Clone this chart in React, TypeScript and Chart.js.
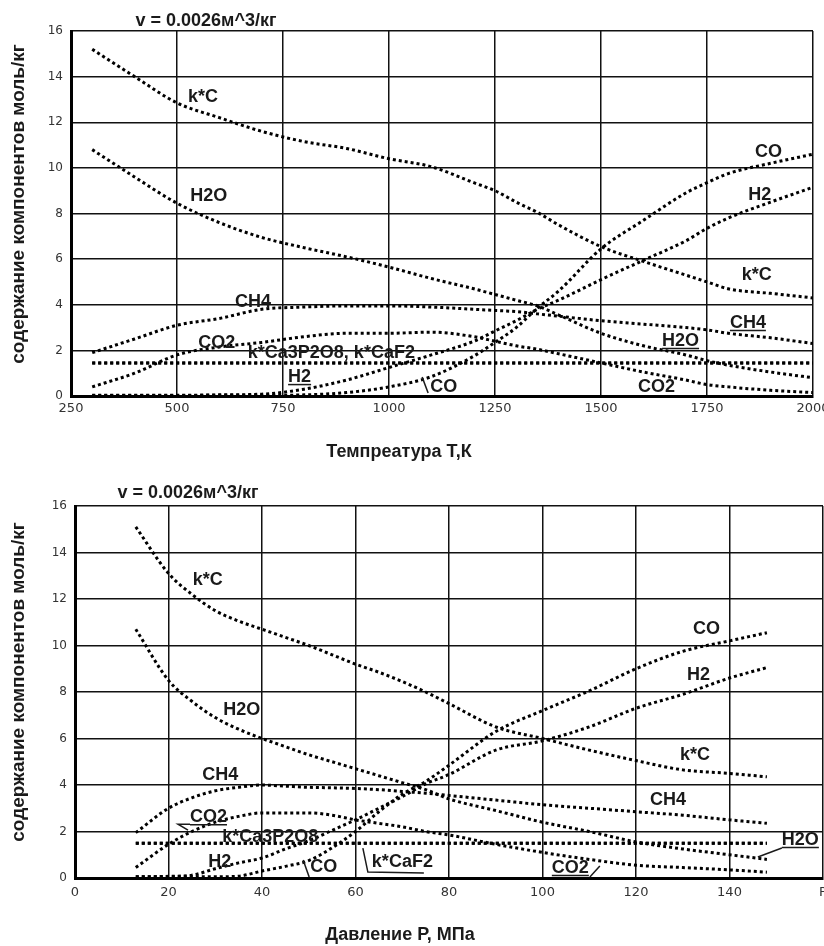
import React, { useEffect, useRef } from "react";
import { Chart, registerables } from "chart.js";

Chart.register(...registerables);

// ---------- Top chart: temperature ----------
const TEMP_T = [300, 400, 500, 600, 700, 800, 900, 1000, 1100, 1200, 1250, 1300, 1350, 1400, 1500, 1600, 1700, 1750, 1800, 1900, 2000];
const TEMP_KC = [15.2, 14.0, 12.85, 12.2, 11.6, 11.15, 10.85, 10.4, 10.05, 9.35, 9.0, 8.5, 8.05, 7.5, 6.55, 5.9, 5.3, 5.0, 4.7, 4.5, 4.3];
const TEMP_H2O = [10.8, 9.6, 8.45, 7.6, 6.95, 6.5, 6.1, 5.65, 5.15, 4.7, 4.45, 4.2, 3.95, 3.55, 2.75, 2.2, 1.8, 1.55, 1.35, 1.05, 0.8];
const TEMP_CH4 = [1.9, 2.5, 3.1, 3.4, 3.8, 3.9, 3.95, 3.95, 3.9, 3.8, 3.75, 3.7, 3.6, 3.5, 3.3, 3.15, 3.0, 2.9, 2.75, 2.55, 2.3];
const TEMP_CO2 = [0.4, 1.0, 1.8, 2.15, 2.35, 2.6, 2.75, 2.75, 2.8, 2.6, 2.4, 2.2, 2.05, 1.85, 1.45, 1.05, 0.7, 0.5, 0.4, 0.25, 0.15];
const TEMP_H2 = [0.03, 0.03, 0.03, 0.05, 0.08, 0.3, 0.7, 1.25, 1.8, 2.4, 2.85, 3.3, 3.8, 4.2, 5.1, 5.95, 6.8, 7.35, 7.8, 8.5, 9.15];
const TEMP_CO = [0.02, 0.02, 0.02, 0.03, 0.03, 0.05, 0.15, 0.4, 0.85, 1.75, 2.35, 3.0, 3.85, 4.6, 6.45, 7.7, 8.9, 9.35, 9.75, 10.2, 10.6];
const TEMP_KCA3P2O8 = [1.45, 1.45, 1.45, 1.45, 1.45, 1.45, 1.45, 1.45, 1.45, 1.45, 1.45, 1.45, 1.45, 1.45, 1.45, 1.45, 1.45, 1.45, 1.45, 1.45, 1.45];
const TEMP_KCAF2 = [1.45, 1.45, 1.45, 1.45, 1.45, 1.45, 1.45, 1.45, 1.45, 1.45, 1.45, 1.45, 1.45, 1.45, 1.45, 1.45, 1.45, 1.45, 1.45, 1.45, 1.45];

// ---------- Bottom chart: pressure ----------
const PRES_P = [13, 20, 25, 30, 35, 40, 45, 50, 55, 60, 65, 70, 75, 80, 90, 100, 110, 120, 130, 140, 148];
const PRES_KC = [15.1, 13.1, 12.2, 11.5, 11.05, 10.7, 10.35, 10.0, 9.6, 9.2, 8.85, 8.45, 8.0, 7.5, 6.5, 6.0, 5.5, 5.05, 4.65, 4.5, 4.35];
const PRES_H2O = [10.7, 8.5, 7.6, 6.9, 6.4, 6.0, 5.65, 5.3, 5.0, 4.7, 4.4, 4.1, 3.8, 3.4, 2.9, 2.4, 2.0, 1.55, 1.25, 1.0, 0.8];
const PRES_CH4 = [1.95, 3.0, 3.45, 3.75, 3.9, 4.0, 3.95, 3.9, 3.88, 3.85, 3.8, 3.72, 3.65, 3.55, 3.35, 3.15, 3.0, 2.85, 2.7, 2.5, 2.35];
const PRES_CO2 = [0.45, 1.45, 2.0, 2.4, 2.65, 2.8, 2.8, 2.8, 2.7, 2.5, 2.35, 2.2, 2.0, 1.85, 1.45, 1.1, 0.8, 0.55, 0.45, 0.35, 0.25];
const PRES_H2 = [0.05, 0.07, 0.12, 0.4, 0.65, 0.86, 1.25, 1.6, 2.05, 2.5, 3.0, 3.5, 4.05, 4.45, 5.5, 5.9, 6.5, 7.3, 7.9, 8.6, 9.05];
const PRES_CO = [0.05, 0.05, 0.05, 0.05, 0.08, 0.3, 0.5, 0.75, 1.3, 2.0, 2.85, 3.6, 4.15, 4.85, 6.3, 7.2, 8.05, 9.0, 9.75, 10.2, 10.55];
const PRES_KCA3P2O8 = [1.5, 1.5, 1.5, 1.5, 1.5, 1.5, 1.5, 1.5, 1.5, 1.5, 1.5, 1.5, 1.5, 1.5, 1.5, 1.5, 1.5, 1.5, 1.5, 1.5, 1.5];
const PRES_KCAF2 = [1.5, 1.5, 1.5, 1.5, 1.5, 1.5, 1.5, 1.5, 1.5, 1.5, 1.5, 1.5, 1.5, 1.5, 1.5, 1.5, 1.5, 1.5, 1.5, 1.5, 1.5];

// Tick settings
const TEMP_X_MIN = 250, TEMP_X_MAX = 2000, TEMP_X_STEP = 250;
const PRES_X_MIN = 0, PRES_X_MAX = 160, PRES_X_STEP = 20;
const Y_MIN = 0, Y_MAX = 16, Y_STEP = 2;

// Texts
const TITLE = "v = 0.0026м^3/кг";
const Y_TITLE = "содержание компонентов моль/кг";
const TEMP_X_TITLE = "Темпреатура Т,К";
const PRES_X_TITLE = "Давление Р, МПа";

// In-chart labels (data coordinates)
const TEMP_LABELS = [
  { text: "k*C", x: 526, y: 12.9 },
  { text: "H2O", x: 531, y: 8.55 },
  { text: "CH4", x: 637, y: 3.9 },
  { text: "CO2", x: 550, y: 2.1 },
  { text: "k*Ca3P2O8, k*CaF2", x: 667, y: 1.67 },
  { text: "H2", x: 762, y: 0.61, underline: true },
  { text: "CO", x: 1097, y: 0.18, leader: [[-8, -15], [-2, 1]] },
  { text: "CO", x: 1863, y: 10.48 },
  { text: "H2", x: 1847, y: 8.6 },
  { text: "k*C", x: 1832, y: 5.09 },
  { text: "CH4", x: 1804, y: 2.98, underline: true },
  { text: "H2O", x: 1644, y: 2.19, underline: true },
  { text: "CO2", x: 1587, y: 0.18 },
];

const PRES_LABELS = [
  { text: "k*C", x: 25.2, y: 12.6 },
  { text: "H2O", x: 31.7, y: 7.0 },
  { text: "CH4", x: 27.2, y: 4.2 },
  { text: "CO2", x: 24.6, y: 2.4, underline: true, leader: [[0, 2], [-12, 2], [-2, 8]] },
  { text: "k*Ca3P2O8", x: 31.5, y: 1.55 },
  { text: "H2", x: 28.5, y: 0.47 },
  { text: "CO", x: 50.3, y: 0.26, leader: [[-7, -12], [-1, 5]] },
  { text: "k*CaF2", x: 63.5, y: 0.47, leader: [[-9, -19], [-4, 5], [52, 6]] },
  { text: "CO", x: 132.2, y: 10.5 },
  { text: "H2", x: 130.9, y: 8.5 },
  { text: "k*C", x: 129.4, y: 5.06 },
  { text: "CH4", x: 123, y: 3.13 },
  { text: "H2O", x: 151.2, y: 1.42, underline: true, leader: [[0, 3], [-24, 12]] },
  { text: "CO2", x: 102, y: 0.21, underline: true, leader: [[38, 4], [48, -7]] },
];

const LABEL_FONT = "bold 18px 'Liberation Sans', Arial, sans-serif";
const AXIS_TITLE_FONT = "bold 19px 'Liberation Sans', Arial, sans-serif";
const TICK_FONT_FAMILY = "'DejaVu Sans', sans-serif";

type Lbl = { text: string; x: number; y: number; underline?: boolean; leader?: number[][] };

const labelPlugin = {
  id: "seriesLabels",
  afterDatasetsDraw(chart: any, _args: any, opts: any) {
    const ctx = chart.ctx;
    const xs = chart.scales.x;
    const ys = chart.scales.y;
    ctx.save();
    ctx.font = LABEL_FONT;
    ctx.fillStyle = "#1a1a1a";
    ctx.strokeStyle = "#1a1a1a";
    ctx.textAlign = "left";
    ctx.textBaseline = "alphabetic";
    (opts.labels || []).forEach((l: Lbl) => {
      const px = xs.getPixelForValue(l.x);
      const py = ys.getPixelForValue(l.y);
      ctx.fillText(l.text, px, py);
      const w = ctx.measureText(l.text).width;
      ctx.lineWidth = 1.5;
      if (l.underline) {
        ctx.beginPath();
        ctx.moveTo(px, py + 2.5);
        ctx.lineTo(px + w, py + 2.5);
        ctx.stroke();
      }
      if (l.leader) {
        ctx.beginPath();
        l.leader.forEach((p, i) => {
          if (i === 0) ctx.moveTo(px + p[0], py + p[1]);
          else ctx.lineTo(px + p[0], py + p[1]);
        });
        ctx.stroke();
      }
    });
    ctx.restore();
  },
};

const titlePlugin = {
  id: "fixedTitles",
  afterDraw(chart: any, _args: any, opts: any) {
    const ctx = chart.ctx;
    ctx.save();
    ctx.fillStyle = "#1a1a1a";
    ctx.textAlign = "center";
    ctx.textBaseline = "alphabetic";
    (opts.items || []).forEach((t: any) => {
      ctx.font = t.font || LABEL_FONT;
      if (t.rotate) {
        ctx.save();
        ctx.translate(t.x, t.y);
        ctx.rotate(-Math.PI / 2);
        ctx.textBaseline = "middle";
        ctx.fillText(t.text, 0, 0);
        ctx.restore();
      } else {
        ctx.fillText(t.text, t.x, t.y);
      }
    });
    ctx.restore();
  },
};

function makeDatasets(xs: number[], series: { label: string; values: number[] }[]) {
  return series.map((s) => ({
    label: s.label,
    data: xs.map((x, i) => ({ x, y: s.values[i] })),
    borderColor: "#000",
    backgroundColor: "#000",
    borderWidth: 3,
    borderDash: [3, 3],
    borderCapStyle: "butt",
    pointRadius: 0,
    fill: false,
    cubicInterpolationMode: "monotone",
  }));
}

function buildConfig(o: {
  xs: number[];
  series: { label: string; values: number[] }[];
  xMin: number; xMax: number; xStep: number;
  yWidth: number; xHeight: number;
  pad: { left: number; right: number; top: number; bottom: number };
  labels: Lbl[];
  titles: any[];
  lastTick?: string;
  tickPad: number;
}) {
  return {
    type: "line",
    data: { datasets: makeDatasets(o.xs, o.series) },
    plugins: [labelPlugin, titlePlugin],
    options: {
      responsive: false,
      animation: false,
      events: [],
      layout: { padding: o.pad },
      plugins: {
        legend: { display: false },
        tooltip: { enabled: false },
        title: { display: false },
        seriesLabels: { labels: o.labels },
        fixedTitles: { items: o.titles },
      },
      scales: {
        x: {
          type: "linear",
          min: o.xMin,
          max: o.xMax,
          afterBuildTicks(scale: any) {
            const t = [];
            for (let v = o.xMin; v <= o.xMax + 1e-9; v += o.xStep) t.push({ value: v });
            scale.ticks = t;
          },
          afterFit(scale: any) {
            scale.height = o.xHeight;
            scale.paddingLeft = 0;
            scale.paddingRight = 0;
          },
          grid: { color: "#111", lineWidth: 1.5, drawTicks: false },
          border: { display: true, color: "#000", width: 3 },
          ticks: {
            padding: o.tickPad,
            maxRotation: 0,
            autoSkip: false,
            color: "#333",
            font: { family: TICK_FONT_FAMILY, size: 13 },
            callback: (v: any) => (o.lastTick && v === o.xMax ? o.lastTick : String(v)),
          },
        },
        y: {
          type: "linear",
          min: Y_MIN,
          max: Y_MAX,
          afterFit(scale: any) {
            scale.width = o.yWidth;
            scale.paddingTop = 0;
            scale.paddingBottom = 0;
          },
          grid: { color: "#111", lineWidth: 1.5, drawTicks: false },
          border: { display: true, color: "#000", width: 3 },
          ticks: {
            stepSize: Y_STEP,
            padding: 8,
            color: "#333",
            font: { family: TICK_FONT_FAMILY, size: 12 },
          },
        },
      },
    },
  };
}

function ChartCanvas({ config, width, height, top }: { config: any; width: number; height: number; top: number }) {
  const ref = useRef<HTMLCanvasElement | null>(null);
  useEffect(() => {
    if (!ref.current) return;
    const chart = new Chart(ref.current, config);
    return () => chart.destroy();
  }, [config]);
  return (
    <canvas
      ref={ref}
      width={width}
      height={height}
      style={{ position: "absolute", left: 0, top, width, height, display: "block" }}
    />
  );
}

const topConfig = buildConfig({
  xs: TEMP_T,
  series: [
    { label: "k*C", values: TEMP_KC },
    { label: "H2O", values: TEMP_H2O },
    { label: "CH4", values: TEMP_CH4 },
    { label: "CO2", values: TEMP_CO2 },
    { label: "H2", values: TEMP_H2 },
    { label: "CO", values: TEMP_CO },
    { label: "k*Ca3P2O8", values: TEMP_KCA3P2O8 },
    { label: "k*CaF2", values: TEMP_KCAF2 },
  ],
  xMin: TEMP_X_MIN, xMax: TEMP_X_MAX, xStep: TEMP_X_STEP,
  yWidth: 71, xHeight: 74,
  pad: { left: 0, right: 11, top: 31, bottom: 0 },
  labels: TEMP_LABELS,
  titles: [
    { text: TITLE, x: 206, y: 26 },
    { text: Y_TITLE, x: 19, y: 204, rotate: true, font: AXIS_TITLE_FONT },
    { text: TEMP_X_TITLE, x: 399, y: 457 },
  ],
  tickPad: 5,
});

const bottomConfig = buildConfig({
  xs: PRES_P,
  series: [
    { label: "k*C", values: PRES_KC },
    { label: "H2O", values: PRES_H2O },
    { label: "CH4", values: PRES_CH4 },
    { label: "CO2", values: PRES_CO2 },
    { label: "H2", values: PRES_H2 },
    { label: "CO", values: PRES_CO },
    { label: "k*Ca3P2O8", values: PRES_KCA3P2O8 },
    { label: "k*CaF2", values: PRES_KCAF2 },
  ],
  xMin: PRES_X_MIN, xMax: PRES_X_MAX, xStep: PRES_X_STEP,
  yWidth: 75, xHeight: 68,
  pad: { left: 0, right: 1, top: 36, bottom: 0 },
  labels: PRES_LABELS,
  titles: [
    { text: TITLE, x: 188, y: 28 },
    { text: Y_TITLE, x: 19, y: 212, rotate: true, font: AXIS_TITLE_FONT },
    { text: PRES_X_TITLE, x: 400, y: 470 },
  ],
  lastTick: "P",
  tickPad: 7,
});

export default function App() {
  return (
    <div style={{ position: "absolute", left: 0, top: 0, width: 824, height: 946, background: "#fff", overflow: "hidden" }}>
      <ChartCanvas config={topConfig} width={824} height={470} top={0} />
      <ChartCanvas config={bottomConfig} width={824} height={476} top={470} />
    </div>
  );
}
